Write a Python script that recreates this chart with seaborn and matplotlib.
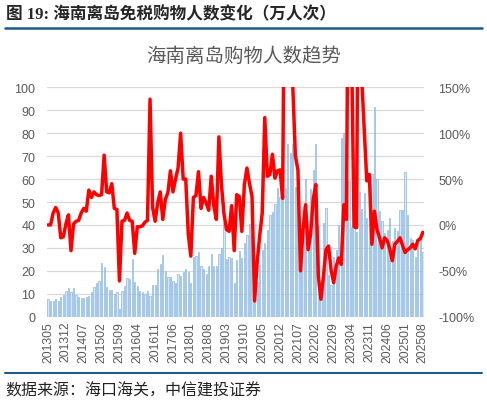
import numpy as np
import pandas as pd
import seaborn as sns
import matplotlib
matplotlib.use("Agg")
import matplotlib.pyplot as plt
from matplotlib.lines import Line2D

# monthly data 2013-05 .. 2025-08
months = pd.period_range("2013-05", "2025-08", freq="M").strftime("%Y%m").tolist()

shoppers = [
    7.7, 6.7, 6.7, 7.7, 6.7, 8.4, 9.6, 11, 12.5, 10.6, 12.5, 9.6, 8.4, 8.1, 8.1, 8.6,
    9, 10.6, 12.8, 14.6, 15.7, 23.6, 21.7, 12.8, 11.6, 11.6, 9.9, 10.6, 3.3, 11, 13.5, 16.7,
    16.4, 25, 15, 13.5, 11.3, 10.6, 9.9, 11.3, 9.1, 13.8, 13.8, 20.7, 22.9, 26.8, 20, 17.5,
    17.5, 15.7, 14.6, 18.6, 17.8, 19.3, 20.7, 19.3, 14.9, 26.1, 26.5, 28.4, 22.2, 20.7, 18.6, 22.2,
    27.2, 22.2, 22.2, 27.5, 29.9, 41, 25, 26, 25.8, 14.9, 24.6, 28.7, 25.8, 32.3, 35.7, 40.3,
    36, 6, 15, 22.7, 29, 32, 38, 44.5, 45.7, 49, 56, 52, 52.5, 56, 75.5, 71.5,
    75.5, 56.6, 54.7, 29, 48, 60, 41.6, 55.7, 64, 75.5, 39.7, 12.5, 41, 47.5, 18, 14,
    26, 29, 40, 78, 80, 44, 59, 39, 40, 37, 54.5, 46.8, 54, 43, 62, 62,
    91.3, 60, 46, 41.7, 36.7, 37.7, 43, 33, 38.6, 37.4, 46.4, 46.4, 63.2, 44.3, 34.5, 33.3,
    26, 31.6, 34.2, 28,
]

yoy = [
    0, 0, 13, 19, 13, -14, -13, 1, 11, -28, 1, 4, 5, 13, 18, 15,
    38, 30, 36, 33, 32, 33, 76, 36, 35, 45, 18, 17, -61, 4, 5, 13,
    5, 4, -31, -2, -2, -1, 3, 5, 137, 19, 4, 24, 36, 6, 28, 35,
    59, 36, 50, 62, 100, 50, 50, -10, -34, 30, 32, 58, 18, 30, 24, 16,
    53, 21, 6, 96, 44, 12, -5, -7, 21, -28, 33, 31, -7, 44, 62, 45,
    31, -83, -41, -12, 13, 117, 53, 55, 77, 51, 59, 60, 29, 400, 300, 250,
    150, 75, 60, -50, -5, 22, -27, -9, 28, 44, -56, -81, -56, -27, -23, -49,
    -63, -45, -36, -43, 22, 6, 400, 200, -2, -3, 500, 160, 105, 48, 55, -21,
    15, -5, -14, -25, -14, -17, -26, -39, -21, -18, -14, -22, -30, -27, -25, -21,
    -26, -17, -15, -8,
]

left_ticks = list(range(0, 101, 10))
right_ticks = [-100, -50, 0, 50, 100, 150]
right_labels = ["-100%", "-50%", "0%", "50%", "100%", "150%"]

df = pd.DataFrame({"month": months, "shoppers": shoppers, "yoy": yoy})
df["pos"] = np.arange(len(df))

sns.set_style("white")
plt.rcParams["font.family"] = ["Liberation Sans", "Noto Sans CJK SC", "DejaVu Sans"]

grey = "#595959"
fig = plt.figure(figsize=(4.87, 4.06), dpi=100)
ax = fig.add_axes([0.0955, 0.2175, 0.776, 0.565])

sns.barplot(data=df, x="pos", y="shoppers", ax=ax, color="#DAE8F6",
            edgecolor="#7FB0DF", linewidth=0.45, width=0.5, saturation=1)
ax.set_xlim(-0.6, len(df) - 0.4)
ax.set_ylim(0, 100)
ax.set_yticks(left_ticks)
ax.yaxis.grid(True, color="#D9D9D9", linewidth=0.9)
ax.set_axisbelow(True)
ax.set_xticks(df["pos"][::7])
ax.set_xticklabels(df["month"][::7], rotation=90, fontsize=8.8, color=grey)
ax.tick_params(axis="y", labelsize=9, colors=grey, length=0, pad=8)
ax.tick_params(axis="x", length=0, pad=3)
ax.set_xlabel("")
ax.set_ylabel("")
for s in ax.spines.values():
    s.set_visible(False)

ax2 = ax.twinx()
sns.lineplot(data=df, x="pos", y="yoy", ax=ax2, color="#FF0000", linewidth=2.5)
ax2.set_ylim(-100, 150)
ax2.set_yticks(right_ticks)
ax2.set_yticklabels(right_labels)
ax2.tick_params(axis="y", labelsize=9, colors=grey, length=0, pad=10)
ax2.set_ylabel("")
ax2.set_xlim(-0.6, len(df) - 0.4)
for s in ax2.spines.values():
    s.set_visible(False)

# headings and frame lines
fig.text(0.012, 0.964, "图 19: 海南离岛免税购物人数变化（万人次）", fontsize=12,
         fontweight="heavy", va="center", ha="left",
         family=["Liberation Serif", "Noto Sans CJK SC"])
fig.add_artist(Line2D([0.011, 0.99], [0.929, 0.929], color="#1F5A8A", linewidth=1.8))
fig.text(0.5, 0.86, "海南离岛购物人数趋势", fontsize=14, color=grey, ha="center", va="center",
         family=["Noto Sans CJK SC"])
fig.add_artist(Line2D([0.011, 0.99], [0.079, 0.079], color="#1F5A8A", linewidth=1.5))
fig.text(0.012, 0.036, "数据来源：海口海关，中信建投证券", fontsize=11.5, color="#222222",
         ha="left", va="center", family=["Noto Sans CJK SC"])

fig.savefig("out.png", dpi=100)
